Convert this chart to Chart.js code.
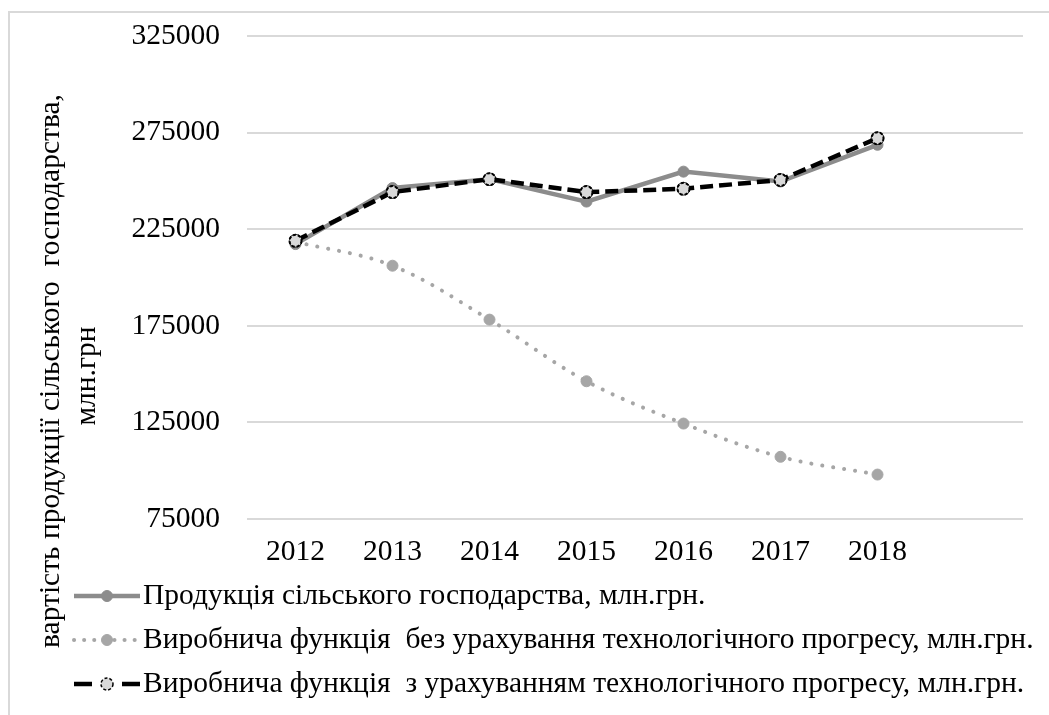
<!DOCTYPE html>
<html>
<head>
<meta charset="utf-8">
<script src="https://cdn.jsdelivr.net/npm/chart.js@4"></script>
<style>
  html, body { margin: 0; padding: 0; background: #fff; }
  canvas { display: block; }
</style>
</head>
<body>
<canvas id="chart" width="1049" height="715"></canvas>
<script>
// Data
const years = ['2012', '2013', '2014', '2015', '2016', '2017', '2018', ''];
const actualOutput = [217300, 246300, 250900, 239300, 254800, 249700, 268700];
const withoutProgress = [218500, 206100, 178200, 146300, 124400, 107200, 98000];
const withProgress = [219000, 244200, 250900, 244200, 245900, 250500, 272100];
const yMin = 75000, yMax = 325000, yStep = 50000;

const seriesNames = [
  'Продукція сільського господарства, млн.грн.',
  'Виробнича функція  без урахування технологічного прогресу, млн.грн.',
  'Виробнича функція  з урахуванням технологічного прогресу, млн.грн.'
];
const yTitle = ['вартість продукції сільського  господарства,', 'млн.грн'];

const FONT = '"Liberation Serif", "Times New Roman", serif';
const FSIZE = 29.5;

// Frame, axis title and legend drawn by hand
const extras = {
  id: 'extras',
  afterDraw(chart) {
    const ctx = chart.ctx;
    ctx.save();
    // outer frame (only top/left edge visible)
    ctx.strokeStyle = '#d9d9d9';
    ctx.lineWidth = 2;
    ctx.strokeRect(9, 12, 1100, 800);

    // y axis title
    ctx.fillStyle = '#000';
    ctx.font = FSIZE + 'px ' + FONT;
    ctx.textAlign = 'center';
    ctx.textBaseline = 'middle';
    ctx.save();
    ctx.translate(51, 371);
    ctx.rotate(-Math.PI / 2);
    ctx.fillText(yTitle[0], 0, 0);
    ctx.restore();
    ctx.save();
    ctx.translate(87, 376);
    ctx.rotate(-Math.PI / 2);
    ctx.fillText(yTitle[1], 0, 0);
    ctx.restore();

    // legend
    const rows = [596, 640, 684];
    chart.data.datasets.forEach((ds, i) => {
      const y = rows[i];
      ctx.save();
      ctx.strokeStyle = ds.borderColor;
      ctx.lineWidth = ds.borderWidth;
      ctx.lineCap = ds.borderCapStyle || 'butt';
      ctx.setLineDash(ds.legendDash || ds.borderDash || []);
      ctx.beginPath();
      ctx.moveTo(74, y);
      ctx.lineTo(140, y);
      ctx.stroke();
      ctx.setLineDash([]);
      ctx.beginPath();
      ctx.arc(107, y, ds.pointRadius, 0, Math.PI * 2);
      ctx.fillStyle = ds.pointBackgroundColor;
      ctx.fill();
      ctx.lineWidth = ds.pointBorderWidth;
      ctx.strokeStyle = ds.pointBorderColor;
      if (ds.pointBorderDash) ctx.setLineDash(ds.pointBorderDash);
      ctx.stroke();
      ctx.restore();

      ctx.fillStyle = '#000';
      ctx.font = FSIZE + 'px ' + FONT;
      ctx.textAlign = 'left';
      ctx.textBaseline = 'middle';
      ctx.fillText(ds.label, 143, y);
    });
    ctx.restore();
  }
};

// dashed outline for the black series markers
const dashedMarkers = {
  id: 'dashedMarkers',
  afterDatasetsDraw(chart) {
    const ctx = chart.ctx;
    const meta = chart.getDatasetMeta(2);
    ctx.save();
    ctx.setLineDash([3, 2]);
    ctx.strokeStyle = '#000';
    ctx.lineWidth = 2;
    meta.data.forEach(p => {
      ctx.beginPath();
      ctx.arc(p.x, p.y, 6, 0, Math.PI * 2);
      ctx.fillStyle = '#d9d9d9';
      ctx.fill();
      ctx.stroke();
    });
    ctx.restore();
  }
};

new Chart(document.getElementById('chart'), {
  type: 'line',
  data: {
    labels: years,
    datasets: [
      {
        label: seriesNames[0],
        data: actualOutput,
        borderColor: '#8c8c8c',
        borderWidth: 4.5,
        pointRadius: 5.5,
        pointBackgroundColor: '#8c8c8c',
        pointBorderColor: '#8c8c8c',
        pointBorderWidth: 1,
        tension: 0,
        order: 2
      },
      {
        label: seriesNames[1],
        data: withoutProgress,
        borderColor: '#a6a6a6',
        borderWidth: 4,
        borderCapStyle: 'round',
        borderDash: [0.1, 11],
        legendDash: [0.1, 10],
        pointRadius: 5.5,
        pointBackgroundColor: '#a6a6a6',
        pointBorderColor: '#a6a6a6',
        pointBorderWidth: 1,
        tension: 0.35,
        order: 3
      },
      {
        label: seriesNames[2],
        data: withProgress,
        borderColor: '#000000',
        borderWidth: 4.5,
        borderDash: [13, 6],
        legendDash: [18, 30],
        pointRadius: 6,
        pointBackgroundColor: '#d9d9d9',
        pointBorderColor: '#000000',
        pointBorderWidth: 1.5,
        pointBorderDash: [3, 2],
        tension: 0,
        order: 1
      }
    ]
  },
  options: {
    responsive: false,
    animation: false,
    devicePixelRatio: 1,
    layout: { padding: { left: 0, top: 36, right: 26, bottom: 146 } },
    plugins: {
      legend: { display: false },
      tooltip: { enabled: false }
    },
    scales: {
      x: {
        offset: true,
        grid: { display: false, drawTicks: false },
        border: { display: false },
        ticks: {
          color: '#000',
          font: { family: FONT, size: FSIZE },
          padding: 16,
          maxRotation: 0,
          autoSkip: false
        },
        afterFit(scale) { scale.height = 50; }
      },
      y: {
        min: yMin,
        max: yMax,
        // invisible tick marks give the label gap without extra top padding
        grid: { color: '#d9d9d9', lineWidth: 2, drawTicks: true, tickLength: 27, tickColor: 'rgba(0,0,0,0)' },
        border: { display: false },
        ticks: {
          stepSize: yStep,
          color: '#000',
          font: { family: FONT, size: FSIZE },
          padding: 0,
          callback: v => String(v)
        },
        afterFit(scale) { scale.width = 247; }
      }
    }
  },
  plugins: [extras, dashedMarkers]
});
</script>
</body>
</html>
